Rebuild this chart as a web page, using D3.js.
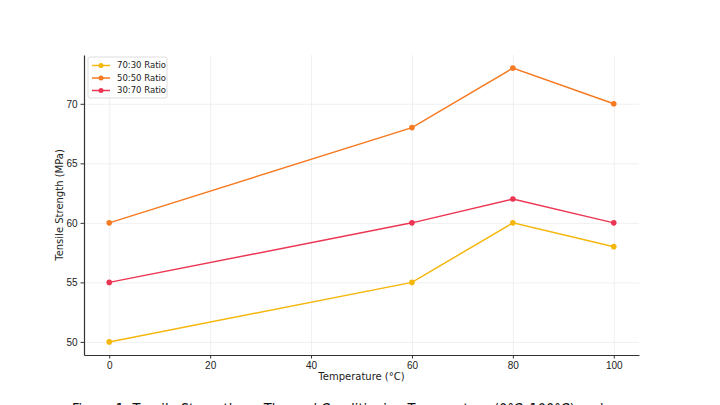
<!DOCTYPE html>
<html>
<head>
<meta charset="utf-8">
<script src="https://cdn.jsdelivr.net/npm/d3@7"></script>
<style>
  body { margin: 0; background: #fff; }
  svg { display: block; font-family: "DejaVu Sans", sans-serif; }
  .grid line { stroke: #ececec; stroke-width: 0.8; }
  .grid path { display: none; }
  .axis text { font-size: 10px; fill: #222; }
  .axis path, .axis line { stroke: #333; }
</style>
</head>
<body>
<svg id="chart" width="720" height="405"></svg>
<script>
var temperatures = [0, 60, 80, 100];
var seriesNames = ['70:30 Ratio', '50:50 Ratio', '30:70 Ratio'];
var ratio7030 = [50, 55, 60, 58];
var ratio5050 = [60, 68, 73, 70];
var ratio3070 = [55, 60, 62, 60];
var seriesColors = ['#f5b70c', '#f67a21', '#ec3552'];
var xTicks = [0, 20, 40, 60, 80, 100];
var yTicks = [50, 55, 60, 65, 70];

var seriesValues = [ratio7030, ratio5050, ratio3070];

var margin = { left: 84, right: 81, top: 55, bottom: 50 },
    width = 720, height = 405,
    svg = d3.select('#chart');

var x = d3.scaleLinear().domain([-5, 105]).range([margin.left, width - margin.right]);
var y = d3.scaleLinear().domain([48.9, 74.1]).range([height - margin.bottom, margin.top]);

// grid
svg.append('g').attr('class', 'grid')
    .attr('transform', 'translate(0,' + (height - margin.bottom) + ')')
    .call(d3.axisBottom(x).tickValues(xTicks).tickSize(-(height - margin.bottom - margin.top)).tickFormat(''));
svg.append('g').attr('class', 'grid')
    .attr('transform', 'translate(' + margin.left + ',0)')
    .call(d3.axisLeft(y).tickValues(yTicks).tickSize(-(width - margin.right - margin.left)).tickFormat(''));

// lines
var line = d3.line()
    .x(function (d, i) { return x(temperatures[i]); })
    .y(function (d) { return y(d); });

seriesValues.forEach(function (values, s) {
    svg.append('path')
        .datum(values)
        .attr('d', line)
        .attr('fill', 'none')
        .attr('stroke', seriesColors[s])
        .attr('stroke-width', 1.5);

    svg.selectAll('.pt' + s)
        .data(values)
        .enter().append('circle')
        .attr('cx', function (d, i) { return x(temperatures[i]); })
        .attr('cy', function (d) { return y(d); })
        .attr('r', 2.8)
        .attr('fill', seriesColors[s]);
});

// axes
var xAxis = svg.append('g').attr('class', 'axis')
    .attr('transform', 'translate(0,' + (height - margin.bottom) + ')')
    .call(d3.axisBottom(x).tickValues(xTicks).tickSize(3.5).tickSizeOuter(0));
var yAxis = svg.append('g').attr('class', 'axis')
    .attr('transform', 'translate(' + margin.left + ',0)')
    .call(d3.axisLeft(y).tickValues(yTicks).tickSize(3.5).tickSizeOuter(0));
xAxis.select('.domain').attr('stroke-width', 1.2);
yAxis.select('.domain').attr('stroke-width', 1.2);

svg.append('text')
    .attr('x', x(50)).attr('y', 380)
    .attr('text-anchor', 'middle')
    .attr('font-size', 10).attr('fill', '#222')
    .text('Temperature (°C)');

svg.append('text')
    .attr('transform', 'translate(63,' + y(61.5) + ') rotate(-90)')
    .attr('text-anchor', 'middle')
    .attr('font-size', 10).attr('fill', '#222')
    .text('Tensile Strength (MPa)');

// legend
var legend = svg.append('g').attr('transform', 'translate(88,57)');
legend.append('rect')
    .attr('width', 79).attr('height', 41).attr('rx', 2)
    .attr('fill', '#fff').attr('fill-opacity', 0.85)
    .attr('stroke', '#ddd');
seriesNames.forEach(function (name, s) {
    var g = legend.append('g').attr('transform', 'translate(4,' + (8.5 + s * 12.5) + ')');
    g.append('line').attr('x1', 0).attr('x2', 18)
        .attr('stroke', seriesColors[s]).attr('stroke-width', 1.5);
    g.append('circle').attr('cx', 9).attr('r', 2.5).attr('fill', seriesColors[s]);
    g.append('text').attr('x', 25).attr('dy', '0.35em')
        .attr('font-size', 8.5).attr('fill', '#222').text(name);
});

// caption, cut off at the bottom edge like the source image
svg.append('text')
    .attr('x', 72).attr('y', 415)
    .attr('font-size', 15).attr('fill', '#111')
    .attr('textLength', 548).attr('lengthAdjust', 'spacingAndGlyphs')
    .text('Figure 1: Tensile Strength vs. Thermal Conditioning Temperature (0°C–100°C) and ...');
</script>
</body>
</html>
